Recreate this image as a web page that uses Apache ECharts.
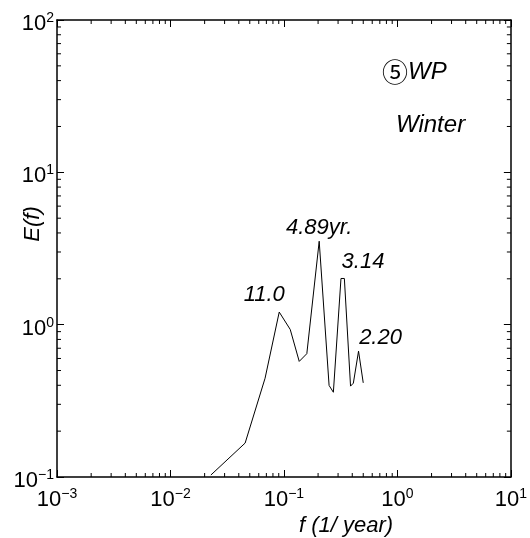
<!DOCTYPE html>
<html>
<head>
<meta charset="utf-8">
<script src="https://cdn.jsdelivr.net/npm/echarts@6/dist/echarts.min.js"></script>
<style>
  html, body { margin: 0; padding: 0; background: #ffffff; }
  #chart { width: 530px; height: 538px; }
</style>
</head>
<body>
<div id="chart"></div>
<script>
// Spectral energy E(f) against frequency f (1/year), winter, WP region
const freq   = [0.0227, 0.0455, 0.0682, 0.0909, 0.1136, 0.1364, 0.1591, 0.2045,
                0.2500, 0.2727, 0.3182, 0.3409, 0.3864, 0.4091, 0.4545, 0.5000];
const energy = [0.103, 0.167, 0.445, 1.21, 0.93, 0.574, 0.645, 3.53,
                0.399, 0.36, 2.01, 2.01, 0.395, 0.413, 0.67, 0.415];

// Peaks annotated with their period (years)
const peakIndex = [3, 7, 10, 14];
const peakText  = ['11.0', '4.89yr.', '3.14', '2.20'];

// Axis ranges (decades) and tick exponents
const xRange = [0.001, 10];
const yRange = [0.1, 100];
const xMinorDecades = [-3, -2, -1, 0];
const yMinorDecades = [-1, 0, 1];
const minorMultipliers = [2, 3, 4, 5, 6, 7, 8, 9];

const FONT = "'Liberation Sans', Arial, sans-serif";

const lineData = freq.map((f, i) => [f, energy[i]]);

// label placement around each annotated peak
const peakOffsets = [[-15, -17], [0, -13], [22, -17], [22, -13]];
const peakData = peakIndex.map((idx, j) => ({
  value: [freq[idx], energy[idx]],
  label: { formatter: peakText[j], offset: peakOffsets[j] }
}));

const xMinor = [];
xMinorDecades.forEach(d => minorMultipliers.forEach(m => xMinor.push([m * Math.pow(10, d), 1])));
const yMinor = [];
yMinorDecades.forEach(d => minorMultipliers.forEach(m => yMinor.push([1, m * Math.pow(10, d)])));

function expLabel(v) {
  const e = Math.round(Math.log10(v));
  const s = e < 0 ? '\u2212' + (-e) : String(e);
  return '{b|10}{s|' + s + '}';
}

const labelRich = {
  b: { fontFamily: FONT, fontSize: 22, lineHeight: 26, color: '#000' },
  s: { fontFamily: FONT, fontSize: 14, lineHeight: 10, verticalAlign: 'top', color: '#000' }
};

const axisLineStyle = { show: true, lineStyle: { color: '#000', width: 1.5 } };
const majorTick = { show: true, inside: true, length: 7, lineStyle: { color: '#000', width: 1 } };

const MINOR_LEN = 4;
function renderMinorX(params, api) {
  const x = api.coord([api.value(0), 1])[0];
  const cs = params.coordSys;
  const yb = cs.y + cs.height, yt = cs.y;
  const st = { stroke: '#000', lineWidth: 1 };
  return { type: 'group', children: [
    { type: 'line', shape: { x1: x, y1: yb, x2: x, y2: yb - MINOR_LEN }, style: st },
    { type: 'line', shape: { x1: x, y1: yt, x2: x, y2: yt + MINOR_LEN }, style: st }
  ]};
}
function renderMinorY(params, api) {
  const y = api.coord([1, api.value(1)])[1];
  const cs = params.coordSys;
  const xl = cs.x, xr = cs.x + cs.width;
  const st = { stroke: '#000', lineWidth: 1 };
  return { type: 'group', children: [
    { type: 'line', shape: { x1: xl, y1: y, x2: xl + MINOR_LEN, y2: y }, style: st },
    { type: 'line', shape: { x1: xr, y1: y, x2: xr - MINOR_LEN, y2: y }, style: st }
  ]};
}

const chart = echarts.init(document.getElementById('chart'), null, { renderer: 'canvas' });

chart.setOption({
  animation: false,
  backgroundColor: '#ffffff',
  grid: { left: 57, right: 14, top: 20, bottom: 61, containLabel: false },
  xAxis: [
    {
      type: 'log', logBase: 10, min: xRange[0], max: xRange[1], position: 'bottom',
      axisLine: axisLineStyle, axisTick: majorTick, splitLine: { show: false },
      axisLabel: { show: true, margin: 10, formatter: expLabel, rich: labelRich,
                   showMinLabel: true, showMaxLabel: true, hideOverlap: false }
    },
    {
      type: 'log', logBase: 10, min: xRange[0], max: xRange[1], position: 'top',
      axisLine: axisLineStyle, axisTick: majorTick, splitLine: { show: false },
      axisLabel: { show: false }
    }
  ],
  yAxis: [
    {
      type: 'log', logBase: 10, min: yRange[0], max: yRange[1], position: 'left',
      axisLine: axisLineStyle, axisTick: majorTick, splitLine: { show: false },
      axisLabel: { show: true, margin: 3, formatter: expLabel, rich: labelRich,
                   padding: [8, 0, 0, 0],
                   showMinLabel: true, showMaxLabel: true, hideOverlap: false }
    },
    {
      type: 'log', logBase: 10, min: yRange[0], max: yRange[1], position: 'right',
      axisLine: axisLineStyle, axisTick: majorTick, splitLine: { show: false },
      axisLabel: { show: false }
    }
  ],
  series: [
    {
      type: 'line', data: lineData, symbol: 'none', silent: true,
      lineStyle: { color: '#000', width: 1 }
    },
    {
      type: 'scatter', data: peakData, symbolSize: 0, silent: true,
      itemStyle: { color: '#000', opacity: 1 },
      emphasis: { disabled: true },
      label: { show: true, position: 'inside', align: 'center', verticalAlign: 'middle',
               fontFamily: FONT, fontStyle: 'italic', fontSize: 22, color: '#000',
               textBorderWidth: 0, opacity: 1 }
    },
    { type: 'custom', data: xMinor, renderItem: renderMinorX, silent: true, clip: false },
    { type: 'custom', data: yMinor, renderItem: renderMinorY, silent: true, clip: false }
  ],
  graphic: [
    {
      type: 'text', x: 382, y: 72, silent: true,
      style: {
        text: '{c|\u2464}{w|WP}', align: 'left', verticalAlign: 'middle',
        rich: {
          c: { fontFamily: "'Noto Sans CJK JP', 'DejaVu Sans'", fontSize: 26, fill: '#000' },
          w: { fontFamily: FONT, fontStyle: 'italic', fontSize: 24, fill: '#000' }
        }
      }
    },
    {
      type: 'text', x: 396, y: 125, silent: true,
      style: { text: 'Winter', align: 'left', verticalAlign: 'middle',
               font: "italic 24px 'Liberation Sans', Arial, sans-serif", fill: '#000' }
    },
    {
      type: 'text', x: 346, y: 526, silent: true,
      style: { text: 'f (1/ year)', align: 'center', verticalAlign: 'middle',
               font: "italic 22px 'Liberation Sans', Arial, sans-serif", fill: '#000' }
    },
    {
      type: 'text', x: 33, y: 224, rotation: Math.PI / 2, silent: true,
      style: { text: 'E(f)', align: 'center', verticalAlign: 'middle',
               font: "italic 22px 'Liberation Sans', Arial, sans-serif", fill: '#000' }
    }
  ]
});
</script>
</body>
</html>
